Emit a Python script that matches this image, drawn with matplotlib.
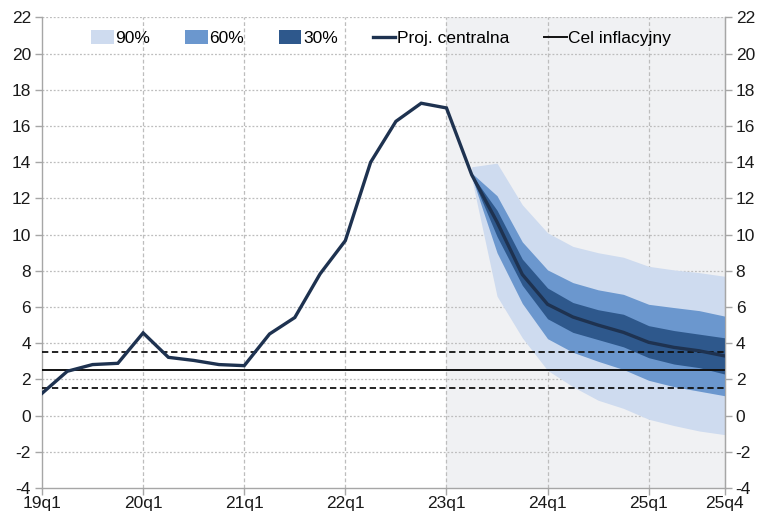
import matplotlib
matplotlib.use("Agg")
import matplotlib.pyplot as plt
from matplotlib.patches import Patch
from matplotlib.lines import Line2D

plt.rcParams['font.family'] = ['Liberation Sans', 'DejaVu Sans']

quarters = ['19q1', '19q2', '19q3', '19q4', '20q1', '20q2', '20q3', '20q4',
            '21q1', '21q2', '21q3', '21q4', '22q1', '22q2', '22q3', '22q4',
            '23q1', '23q2', '23q3', '23q4', '24q1', '24q2', '24q3', '24q4',
            '25q1', '25q2', '25q3', '25q4']
tick_labels = ['19q1', '20q1', '21q1', '22q1', '23q1', '24q1', '25q1', '25q4']

history = [1.23, 2.45, 2.82, 2.89, 4.57, 3.22, 3.05, 2.82, 2.76, 4.51, 5.42,
           7.83, 9.67, 14.0, 16.26, 17.26, 17.0]
# projection from 23q2 to 25q4
central = [13.3, 10.7, 7.8, 6.15, 5.45, 5.0, 4.6, 4.05, 3.77, 3.58, 3.3]
b30_hi = [13.3, 11.35, 8.65, 7.05, 6.25, 5.85, 5.6, 4.97, 4.7, 4.5, 4.3]
b30_lo = [13.2, 9.9, 7.2, 5.35, 4.6, 4.2, 3.8, 3.2, 2.85, 2.65, 2.3]
b60_hi = [13.4, 12.15, 9.6, 8.05, 7.35, 6.95, 6.7, 6.15, 5.97, 5.8, 5.5]
b60_lo = [13.2, 9.0, 6.2, 4.25, 3.5, 3.0, 2.55, 1.95, 1.6, 1.35, 1.1]
b90_hi = [13.75, 13.95, 11.65, 10.1, 9.35, 9.0, 8.75, 8.25, 8.05, 7.9, 7.7]
b90_lo = [13.1, 6.6, 4.3, 2.5, 1.6, 0.85, 0.4, -0.2, -0.55, -0.85, -1.05]

target = 2.5
band_lo, band_hi = 1.5, 3.5

c90 = '#CEDBEF'
c60 = '#6B97CE'
c30 = '#2E588C'
cline = '#1E3250'
cshade = '#F0F1F3'
cgrid = '#BDBDBD'
cspine = '#A6A6A6'

x_all = list(range(len(quarters)))
n_hist = len(history)
x_hist = x_all[:n_hist]
x_proj = x_all[n_hist:]

fig = plt.figure(figsize=(7.68, 5.29), dpi=100)
ax = fig.add_axes([0.0547, 0.0775, 0.8887, 0.8895])

ax.set_xlim(0, len(quarters) - 1)
ax.set_ylim(-4, 22)

# shaded projection region
ax.axvspan(quarters.index('23q1'), len(quarters) - 1, color=cshade, zorder=0, lw=0)

# grid
for y in range(-2, 23, 2):
    ax.axhline(y, color=cgrid, lw=0.9, ls=(0, (1.5, 1.5)), zorder=1)
for lab in tick_labels[1:-1]:
    ax.axvline(quarters.index(lab), color=cgrid, lw=0.9, ls=(0, (3, 2)), zorder=1)

# fan
ax.fill_between(x_proj, b90_lo, b90_hi, color=c90, lw=0, zorder=2)
ax.fill_between(x_proj, b60_lo, b60_hi, color=c60, lw=0, zorder=3)
ax.fill_between(x_proj, b30_lo, b30_hi, color=c30, lw=0, zorder=4)

# reference lines
ax.axhline(target, color='#111111', lw=1.4, zorder=5)
ax.axhline(band_lo, color='#111111', lw=1.3, ls=(0, (3.5, 2)), zorder=5)
ax.axhline(band_hi, color='#111111', lw=1.3, ls=(0, (3.5, 2)), zorder=5)

# central line
ax.plot(x_hist + x_proj, history + central, color=cline, lw=2.4, zorder=6,
        solid_joinstyle='miter')

# axes styling
ax.spines['top'].set_visible(False)
for s in ['left', 'bottom', 'right']:
    ax.spines[s].set_color(cspine)
    ax.spines[s].set_linewidth(1.0)

ax.set_yticks(range(-4, 23, 2))
ax.set_yticklabels([str(v) for v in range(-4, 23, 2)])
ax.set_xticks([quarters.index(l) for l in tick_labels])
ax.set_xticklabels(tick_labels)
ax.tick_params(axis='both', colors=cspine, labelcolor='#1a1a1a', labelsize=12.5,
               length=5, width=1.0, direction='out')
ax.tick_params(axis='y', pad=3)
ax.tick_params(axis='x', pad=1)

ax2 = ax.twinx()
ax2.set_ylim(-4, 22)
ax2.set_yticks(range(-4, 23, 2))
ax2.set_yticklabels([str(v) for v in range(-4, 23, 2)])
ax2.tick_params(axis='y', colors=cspine, labelcolor='#1a1a1a', labelsize=12.5,
                length=5, width=1.0, direction='out', pad=3)
for s in ['top', 'left', 'bottom']:
    ax2.spines[s].set_visible(False)
ax2.spines['right'].set_color(cspine)

handles = [Patch(facecolor=c90, edgecolor='none', label='90%'),
           Patch(facecolor=c60, edgecolor='none', label='60%'),
           Patch(facecolor=c30, edgecolor='none', label='30%'),
           Line2D([0], [0], color=cline, lw=2.4, label='Proj. centralna'),
           Line2D([0], [0], color='#111111', lw=1.4, label='Cel inflacyjny')]
leg = ax.legend(handles=handles, loc='center', bbox_to_anchor=(0.497, 0.956),
                ncol=5, frameon=False, fontsize=12.5, handlelength=1.3,
                handleheight=0.8, handletextpad=0.1, columnspacing=2.0,
                borderaxespad=0)
leg.set_zorder(10)

fig.savefig('out.png', dpi=100)
